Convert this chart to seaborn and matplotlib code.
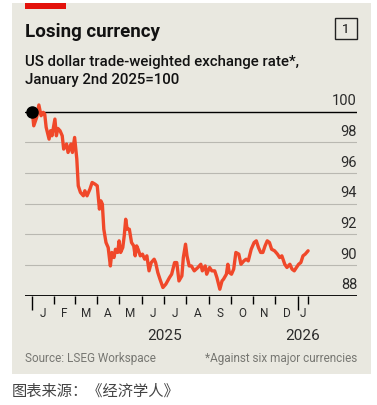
import pandas as pd
import numpy as np
import matplotlib
matplotlib.use('Agg')
import matplotlib.pyplot as plt
import matplotlib.dates as mdates
from matplotlib.patches import Rectangle
import seaborn as sns

# 数据
dates = [
    '2025-01-02', '2025-01-04', '2025-01-08', '2025-01-11', '2025-01-14', '2025-01-17',
    '2025-01-19', '2025-01-21', '2025-01-25', '2025-01-27', '2025-01-29', '2025-02-02',
    '2025-02-04', '2025-02-06', '2025-02-09', '2025-02-12', '2025-02-14', '2025-02-18',
    '2025-02-20', '2025-02-24', '2025-02-26', '2025-03-01', '2025-03-04', '2025-03-06',
    '2025-03-09', '2025-03-13', '2025-03-15', '2025-03-18', '2025-03-22', '2025-03-25',
    '2025-03-29', '2025-04-01', '2025-04-04', '2025-04-06', '2025-04-08', '2025-04-10',
    '2025-04-13', '2025-04-16', '2025-04-19', '2025-04-21', '2025-04-24', '2025-04-26',
    '2025-04-29', '2025-05-01', '2025-05-03', '2025-05-06', '2025-05-08', '2025-05-10',
    '2025-05-12', '2025-05-15', '2025-05-18', '2025-05-21', '2025-05-23', '2025-05-25',
    '2025-05-27', '2025-05-30', '2025-06-02', '2025-06-05', '2025-06-08', '2025-06-11',
    '2025-06-14', '2025-06-18', '2025-06-20', '2025-06-23', '2025-06-26', '2025-06-30',
    '2025-07-04', '2025-07-09', '2025-07-12', '2025-07-16', '2025-07-19', '2025-07-22',
    '2025-07-26', '2025-07-28', '2025-07-31', '2025-08-02', '2025-08-05', '2025-08-08',
    '2025-08-12', '2025-08-17', '2025-08-21', '2025-08-23', '2025-08-27', '2025-08-29',
    '2025-09-02', '2025-09-05', '2025-09-09', '2025-09-12', '2025-09-16', '2025-09-19',
    '2025-09-21', '2025-09-25', '2025-09-27', '2025-09-29', '2025-10-02', '2025-10-05',
    '2025-10-08', '2025-10-12', '2025-10-15', '2025-10-19', '2025-10-22', '2025-10-25',
    '2025-10-29', '2025-11-02', '2025-11-05', '2025-11-08', '2025-11-11', '2025-11-14',
    '2025-11-17', '2025-11-20', '2025-11-23', '2025-11-26', '2025-11-30', '2025-12-04',
    '2025-12-07', '2025-12-10', '2025-12-14', '2025-12-17', '2025-12-21', '2025-12-24',
    '2025-12-27', '2025-12-30', '2026-01-02', '2026-01-05', '2026-01-08', '2026-01-11',
    '2026-01-15',
]
values = [
    100.00, 99.08, 99.63, 100.44, 99.74, 99.96,
    99.85, 98.98, 98.21, 98.76, 98.43, 99.52,
    98.43, 98.91, 98.76, 98.43, 97.56, 97.89,
    97.34, 97.89, 97.34, 98.32, 96.91, 95.16,
    94.73, 94.51, 94.84, 94.51, 94.95, 95.38,
    95.27, 95.16, 93.64, 94.18, 93.97, 92.33,
    91.46, 91.13, 89.93, 90.81, 90.48, 91.02,
    90.81, 91.57, 90.81, 91.13, 91.90, 92.98,
    92.33, 92.33, 91.46, 91.24, 90.59, 91.24,
    91.02, 90.59, 90.70, 90.37, 90.59, 89.61,
    90.15, 90.37, 90.15, 89.50, 89.06, 88.52,
    88.74, 89.17, 89.39, 90.15, 90.15, 88.95,
    89.28, 90.48, 91.35, 90.59, 89.93, 89.93,
    89.61, 89.83, 90.04, 89.61, 89.93, 89.39,
    89.83, 89.61, 89.61, 89.17, 88.41, 88.95,
    89.06, 89.39, 90.04, 89.50, 89.39, 89.72,
    90.81, 90.70, 90.04, 90.26, 90.37, 90.26,
    91.02, 91.46, 91.57, 91.13, 90.81, 90.81,
    91.24, 91.57, 91.46, 91.02, 90.92, 90.70,
    90.48, 90.59, 90.04, 89.83, 90.04, 89.72,
    89.61, 89.83, 90.04, 90.15, 90.59, 90.70,
    90.92,
]
month_labels = ['J', 'F', 'M', 'A', 'M', 'J', 'J', 'A', 'S', 'O', 'N', 'D', 'J']
y_ticks = [88, 90, 92, 94, 96, 98, 100]

df = pd.DataFrame({'date': pd.to_datetime(dates), 'value': values})

W, H = 377, 406
fig = plt.figure(figsize=(W / 100, H / 100), dpi=100)
fig.patch.set_facecolor('white')

sns.set_style('white')
plt.rcParams['font.family'] = ['Roboto', 'DejaVu Sans']

def px(x, y):
    return x / W, 1 - y / H

# 背景面板
panel = '#e9e8e0'
fig.patches.append(Rectangle(px(12, 375), 359 / W, 371 / H, transform=fig.transFigure,
                             facecolor=panel, edgecolor='none', zorder=-2))
fig.patches.append(Rectangle(px(25, 9.5), 41 / W, 5.5 / H, transform=fig.transFigure,
                             facecolor='#e3120b', edgecolor='none', zorder=-1))

ax = fig.add_axes([25 / W, 1 - 296.5 / H, 332 / W, (296.5 - 97.4) / H])
ax.set_facecolor('none')
ax.set_zorder(3)

sns.lineplot(data=df, x='date', y='value', ax=ax, color='#f0482a', linewidth=2.4, zorder=3)
ax.plot(df['date'].iloc[0], df['value'].iloc[0], 'o', color='black', markersize=8, zorder=4,
        clip_on=False)

ax.set_ylim(88, 101)
ax.set_xlim(pd.Timestamp('2024-12-23'), pd.Timestamp('2026-03-23'))
for s in ax.spines.values():
    s.set_visible(False)

# 网格线
for v in y_ticks:
    if v == 100:
        ax.axhline(v, color='black', linewidth=1.0, zorder=2)
    elif v == 88:
        ax.axhline(v, color='black', linewidth=1.3, zorder=2)
    else:
        ax.axhline(v, color='#b9b8b1', linewidth=0.8, zorder=1)
    ax.text(1.0, v + 0.28, str(v), transform=ax.get_yaxis_transform(), ha='right', va='bottom',
            fontsize=10.5, color='#2b2b2b')
ax.set_yticks([])
ax.set_xlabel('')
ax.set_ylabel('')

# x 轴刻度
month_starts = list(pd.date_range('2025-01-01', '2026-01-01', freq='MS')) + [df['date'].iloc[-1]]
ax.set_xticks(month_starts)
ax.set_xticklabels([])
ax.tick_params(axis='x', direction='out', length=5.5, width=1.0, color='black', pad=0,
               bottom=True)
for i, t in enumerate(ax.xaxis.get_major_ticks()):
    if i in (0, 12):
        t.tick1line.set_markersize(10)

centers = []
for i in range(len(month_starts) - 1):
    a, b = month_starts[i], month_starts[i + 1]
    centers.append(a + (b - a) / 2)
for c, lab in zip(centers, month_labels):
    ax.text(c, -0.085, lab, transform=ax.get_xaxis_transform(), ha='center', va='center',
            fontsize=8.5, color='#2b2b2b')
ax.text(pd.Timestamp('2025-07-02'), -0.2, '2025', transform=ax.get_xaxis_transform(),
        ha='center', va='center', fontsize=11, color='#2b2b2b')
ax.text(pd.Timestamp('2026-01-08'), -0.2, '2026', transform=ax.get_xaxis_transform(),
        ha='center', va='center', fontsize=11, color='#2b2b2b')

# 标题
fig.text(*px(25, 32), 'Losing currency', fontsize=13.5, fontweight='bold', color='#121212',
         va='center', ha='left')
fig.text(*px(25, 62), 'US dollar trade-weighted exchange rate*,', fontsize=10.8,
         fontweight='medium', color='#121212', va='center', ha='left')
fig.text(*px(25, 80), 'January 2nd 2025=100', fontsize=10.8, fontweight='medium',
         color='#121212', va='center', ha='left')
fig.patches.append(Rectangle(px(334.5, 40), 22 / W, 21.5 / H, transform=fig.transFigure,
                             facecolor='none', edgecolor='#222222', linewidth=1.0, zorder=2))
fig.text(*px(345.5, 29.5), '1', fontsize=9.5, color='#121212', va='center', ha='center')

fig.text(*px(25, 359), 'Source: LSEG Workspace', fontsize=8.5, color='#777772',
         va='center', ha='left')
fig.text(*px(357, 359), '*Against six major currencies', fontsize=8.5, color='#777772',
         va='center', ha='right')

fig.text(*px(12, 391), '图表来源：《经济学人》', fontsize=11, color='#444444', va='center',
         ha='left', family=['Noto Sans CJK SC', 'DejaVu Sans'])

fig.savefig('out.png', dpi=100, facecolor='white')
